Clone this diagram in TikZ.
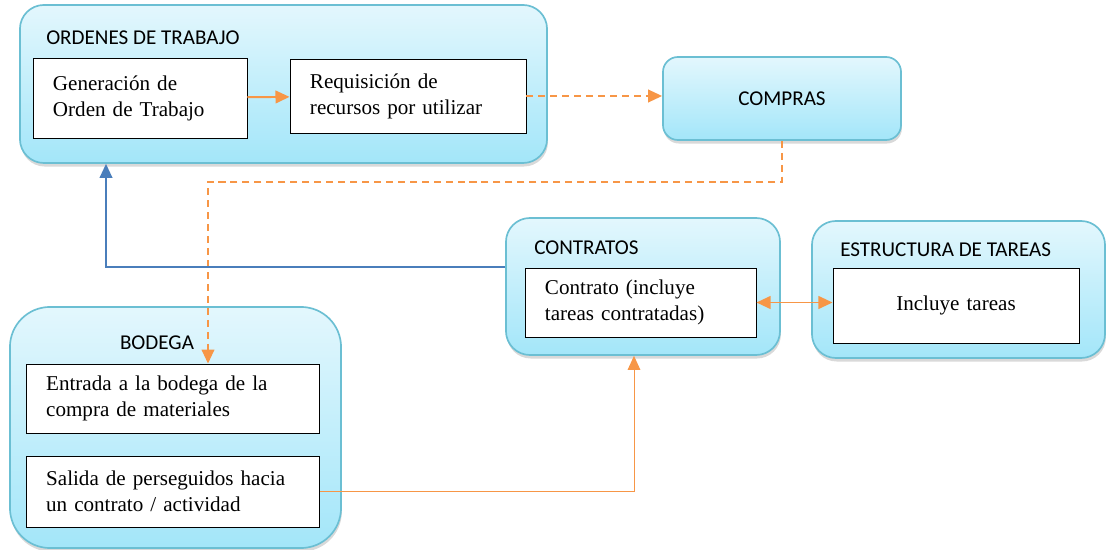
\documentclass[tikz,border=0pt]{standalone}
\usepackage{fontspec}
\setmainfont{Liberation Serif}
\newfontfamily\calibri{Carlito}
\usepackage{xcolor}
\usepackage{tikz}
\usetikzlibrary{arrows.meta,positioning,shadows,calc}

\definecolor{boxline}{HTML}{6BBFD3}
\definecolor{boxtop}{HTML}{E3F7FD}
\definecolor{boxbot}{HTML}{A3E6F9}
\definecolor{flow}{HTML}{F79646}
\definecolor{back}{HTML}{4A7EBB}

\begin{document}
\begin{tikzpicture}[x=0.025cm,y=-0.025cm,>={Triangle[length=10pt,width=9pt]},
  module/.style={draw=boxline,line width=1.2pt,top color=boxtop,bottom color=boxbot,
    rounded corners=0.6cm,drop shadow={shadow xshift=0.6pt,shadow yshift=-2.5pt,opacity=0.3}},
  task/.style={draw,fill=white,line width=0.6pt,inner xsep=0.5cm,align=left,
    font=\fontsize{15}{18.4}\selectfont},
  heading/.style={font=\calibri\fontsize{15}{18}\selectfont,inner sep=0pt},
  flowline/.style={draw=flow,line width=1.4pt},
  flowdash/.style={flowline,dash pattern=on 5pt off 3.5pt}]
  \useasboundingbox (0,0) rectangle (1107,550);

  % outer modules
  \node[module,minimum width=13.175cm,minimum height=3.95cm] (ordenes) at (283.5,84) {};
  \node[module,rounded corners=0.375cm,minimum width=5.95cm,minimum height=2.075cm,
    font=\calibri\fontsize{15}{18}\selectfont] (compras) at (782,98.5) {COMPRAS};
  \node[module,minimum width=6.85cm,minimum height=3.425cm] (contratos) at (643,286.5) {};
  \node[module,minimum width=7.325cm,minimum height=3.425cm] (estructura) at (958.5,289.5) {};
  \node[module,rounded corners=1cm,minimum width=8.275cm,minimum height=6.025cm] (bodega) at (175.5,427.5) {};

  % titles
  \node[heading,anchor=west] (ordenesT) at (46,38) {ORDENES DE TRABAJO};
  \node[heading,anchor=west] (contratosT) at (534,248) {CONTRATOS};
  \node[heading,anchor=west] (estructuraT) at (840,250) {ESTRUCTURA DE TAREAS};
  \node[heading] (bodegaT) at (157,343) {BODEGA};

  % inner tasks
  \node[task,text width=4.35cm,minimum height=2cm] (gen) at (140,98) {Generación de\\Orden de Trabajo};
  \node[task,text width=4.9cm,minimum height=1.85cm] (req) at (408,96) {Requisición de\\recursos por utilizar};
  \node[task,text width=4.775cm,minimum height=1.725cm] (contrato) at (640.5,302.5) {Contrato (incluye\\tareas contratadas)};
  \node[task,text width=5.15cm,minimum height=1.875cm,align=center] (incluye) at (956,305.5) {Incluye tareas};
  \node[task,text width=6.34cm,minimum height=1.725cm] (entrada) at (173,398.5) {Entrada a la bodega de la\\compra de materiales};
  \node[task,text width=6.34cm,minimum height=1.775cm] (salida) at (173,491.5) {Salida de perseguidos hacia\\un contrato / actividad};

  \coordinate (bend) at (208,182);
  \coordinate (rise) at (106,267);

  % connectors
  \draw[flowline,->] (gen) -- (req);
  \draw[flowdash,->] (req.east) -- (req.east -| compras.west);
  \draw[flowdash,->] (compras.south) |- (bend) -- (bend |- entrada.north);
  \draw[back,line width=1.3pt,->] (contratos.west |- rise) -- (rise) -- (rise |- ordenes.south);
  \draw[flow,line width=0.7pt,->] (salida.east) -| ($(contratos.south)+(-9,0)$);
  \draw[flowline,<->] (contrato.east) -- (contrato.east -| incluye.west);
\end{tikzpicture}
\end{document}
